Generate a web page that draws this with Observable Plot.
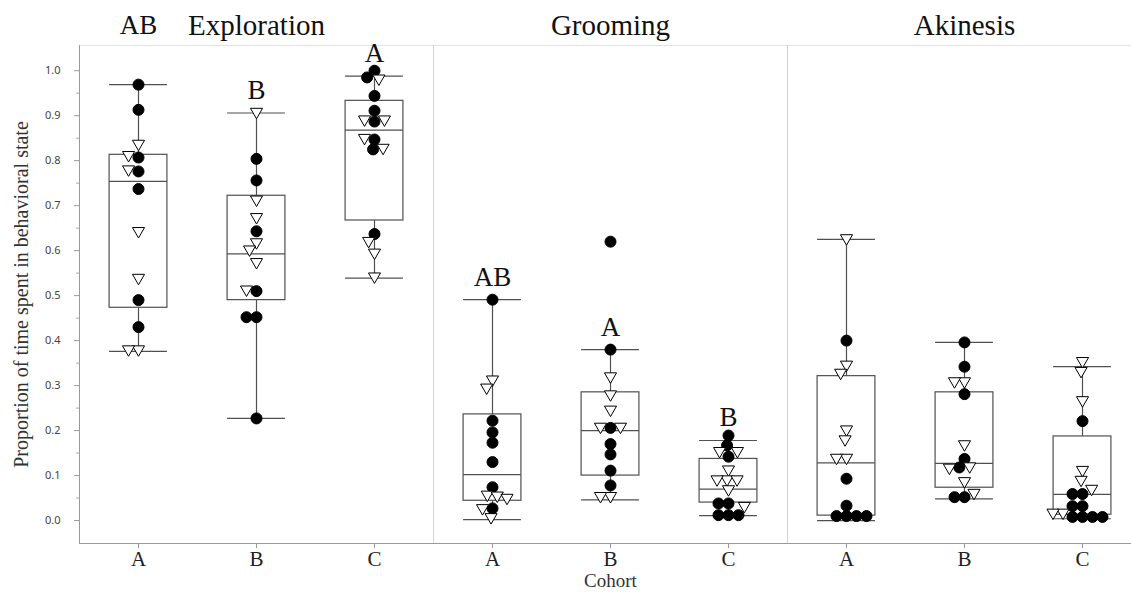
<!DOCTYPE html>
<html>
<head>
<meta charset="utf-8">
<script src="https://cdn.jsdelivr.net/npm/d3@7"></script>
<script src="https://cdn.jsdelivr.net/npm/@observablehq/plot@0.6"></script>
<style>
  body { margin: 0; background: #fff; }
  #chart { width: 1131px; height: 592px; }
</style>
</head>
<body>
<div id="chart"></div>
<script>
const behaviors = ["Exploration", "Grooming", "Akinesis"];
const cohorts = ["A", "B", "C"];

// Proportion of time per animal; one inner list per cohort (A, B, C)
const explorationFilled = [
  [0.969, 0.913, 0.807, 0.776, 0.737, 0.490, 0.430],
  [0.804, 0.756, 0.643, 0.510, 0.452, 0.452, 0.227],
  [1.000, 0.985, 0.944, 0.911, 0.887, 0.847, 0.825, 0.637]
];
const explorationOpen = [
  [0.835, 0.810, 0.778, 0.641, 0.537, 0.378, 0.378],
  [0.906, 0.711, 0.672, 0.616, 0.600, 0.572, 0.511],
  [0.980, 0.889, 0.889, 0.848, 0.826, 0.619, 0.593, 0.540]
];
const groomingFilled = [
  [0.491, 0.222, 0.196, 0.173, 0.130, 0.074, 0.027],
  [0.620, 0.380, 0.206, 0.170, 0.147, 0.111, 0.078],
  [0.189, 0.167, 0.142, 0.038, 0.038, 0.012, 0.012, 0.012]
];
const groomingOpen = [
  [0.311, 0.293, 0.055, 0.053, 0.048, 0.025, 0.005],
  [0.318, 0.278, 0.244, 0.206, 0.206, 0.052, 0.052],
  [0.152, 0.152, 0.111, 0.089, 0.089, 0.089, 0.067, 0.030]
];
const akinesisFilled = [
  [0.400, 0.093, 0.033, 0.010, 0.010, 0.010, 0.010],
  [0.396, 0.342, 0.281, 0.137, 0.118, 0.052, 0.052],
  [0.221, 0.059, 0.059, 0.032, 0.032, 0.008, 0.008, 0.008, 0.008]
];
const akinesisOpen = [
  [0.625, 0.344, 0.326, 0.200, 0.178, 0.137, 0.137],
  [0.307, 0.307, 0.167, 0.118, 0.115, 0.085, 0.059],
  [0.352, 0.330, 0.265, 0.110, 0.088, 0.068, 0.015, 0.015]
];

// Box summaries, behavior-major order (Exploration A..C, Grooming A..C, Akinesis A..C)
const boxLow    = [0.376, 0.227, 0.539, 0.002, 0.046, 0.011, 0.000, 0.048, 0.004];
const boxQ1     = [0.473, 0.490, 0.667, 0.044, 0.100, 0.040, 0.011, 0.073, 0.013];
const boxMedian = [0.754, 0.593, 0.868, 0.102, 0.200, 0.070, 0.128, 0.127, 0.058];
const boxQ3     = [0.813, 0.722, 0.933, 0.236, 0.285, 0.137, 0.321, 0.285, 0.187];
const boxHigh   = [0.969, 0.906, 0.988, 0.491, 0.380, 0.178, 0.625, 0.396, 0.342];

// Compact letter display of pairwise comparisons
const explorationLetters = ["AB", "B", "A"];
const groomingLetters = ["AB", "A", "B"];

const yMajorTicks = [0, 0.1, 0.2, 0.3, 0.4, 0.5, 0.6, 0.7, 0.8, 0.9, 1.0];
const yMinorTicks = [0.05, 0.15, 0.25, 0.35, 0.45, 0.55, 0.65, 0.75, 0.85, 0.95];

// ---- tables for the marks ----
const keys = behaviors.flatMap(b => cohorts.map(c => `${b} ${c}`));
const filledSets = [explorationFilled, groomingFilled, akinesisFilled];
const openSets = [explorationOpen, groomingOpen, akinesisOpen];

const points = [];
behaviors.forEach((b, bi) => cohorts.forEach((c, ci) => {
  const key = `${b} ${c}`;
  filledSets[bi][ci].forEach(value => points.push({key, value, kind: "filled"}));
  openSets[bi][ci].forEach(value => points.push({key, value, kind: "open"}));
}));

const boxes = keys.map((key, i) => ({
  key, low: boxLow[i], q1: boxQ1[i], median: boxMedian[i], q3: boxQ3[i], high: boxHigh[i]
}));

const letters = [
  ...explorationLetters.map((text, i) => ({key: `Exploration ${cohorts[i]}`, text, high: boxHigh[i]})),
  ...groomingLetters.map((text, i) => ({key: `Grooming ${cohorts[i]}`, text, high: boxHigh[3 + i]}))
];
// the first letter group sits in the title row
const titleRowLetters = letters.filter(d => d.key === "Exploration A");
const whiskerLetters = letters.filter(d => d.key !== "Exploration A");

// downward-pointing open triangle
const triangleDown = {
  draw(context, size) {
    const r = Math.sqrt(size / Math.PI);
    context.moveTo(-1.1 * r, -0.85 * r);
    context.lineTo(1.1 * r, -0.85 * r);
    context.lineTo(0, 1.05 * r);
    context.closePath();
  }
};

// each facet spans x ∈ [-1, 1]; boxes are half as wide as a facet
const halfBox = 0.49;
const serif = "'Liberation Serif', 'Times New Roman', serif";
const sans = "'Noto Sans', 'Open Sans', sans-serif";
const boxStroke = "#505050";

const chart = Plot.plot({
  width: 1131, height: 592,
  marginLeft: 79, marginRight: -10, marginTop: 45, marginBottom: 49,
  style: {background: "white", fontFamily: serif, overflow: "visible"},
  fx: {domain: keys, padding: 0, axis: null},
  x: {domain: [-1, 1], axis: null},
  y: {domain: [-0.051, 1.056], axis: null},
  symbol: {domain: ["filled", "open"], range: [d3.symbolCircle, triangleDown]},
  color: {domain: ["filled", "open"], range: ["black", "white"]},
  marks: [
    // frame pieces
    Plot.frame({anchor: "top", stroke: "#e2e2e2"}),
    Plot.frame({anchor: "bottom", stroke: "#9a9a9a"}),
    Plot.ruleX(["Grooming A", "Akinesis A"], {fx: d => d, x: () => -1, stroke: "#d4d4d4"}),
    Plot.ruleX([keys[0]], {fx: d => d, x: () => -1, stroke: "#9a9a9a"}),

    // y axis
    Plot.axisY({ticks: yMajorTicks, tickSize: 5, tickPadding: 14, tickFormat: d3.format(".1f"),
      fontFamily: sans, fontSize: 11, fill: "#444", stroke: "#999", label: null}),
    Plot.axisY({ticks: yMinorTicks, tickSize: 3, tickFormat: () => "", stroke: "#aaa", label: null}),
    Plot.text(["Proportion of time spent in behavioral state"], {
      fx: () => keys[0], frameAnchor: "left", textAnchor: "middle", lineAnchor: "middle",
      rotate: -90, dx: -58, fontSize: 20, fill: "#333", fontFamily: serif
    }),

    // cohort axis
    Plot.axisFx({anchor: "bottom", tickSize: 5, tickPadding: 3, tickFormat: k => k.split(" ")[1],
      fontSize: 21, fill: "#222", stroke: "#999", fontFamily: serif, label: null}),
    Plot.text(["Cohort"], {fx: () => "Grooming B", frameAnchor: "bottom", lineAnchor: "middle", dy: 37,
      fontSize: 19, fill: "#333", fontFamily: serif}),

    // panel titles
    Plot.text(behaviors, {fx: b => `${b} B`, text: d => d, frameAnchor: "top", lineAnchor: "middle", dy: -20,
      fontSize: 29, fill: "#111", fontFamily: serif}),

    // box plots
    Plot.ruleX(boxes, {fx: "key", x: () => 0, y1: "low", y2: "high", stroke: boxStroke, strokeWidth: 1.2}),
    Plot.ruleY(boxes, {fx: "key", x1: -halfBox, x2: halfBox, y: "high", stroke: boxStroke, strokeWidth: 1.2}),
    Plot.ruleY(boxes, {fx: "key", x1: -halfBox, x2: halfBox, y: "low", stroke: boxStroke, strokeWidth: 1.2}),
    Plot.rect(boxes, {fx: "key", x1: -halfBox, x2: halfBox, y1: "q1", y2: "q3", fill: "white", stroke: boxStroke, strokeWidth: 1.2}),
    Plot.ruleY(boxes, {fx: "key", x1: -halfBox, x2: halfBox, y: "median", stroke: boxStroke, strokeWidth: 1.2}),

    // individual animals
    Plot.dot(points, Plot.dodgeX({anchor: "middle", padding: -1}, {
      fx: "key", y: "value", r: 5.5, symbol: "kind", fill: "kind", stroke: "black", strokeWidth: 1
    })),

    // significance letters
    Plot.text(whiskerLetters, {fx: "key", y: "high", text: "text", lineAnchor: "bottom", dy: -14,
      fontSize: 27, fill: "#111", fontFamily: serif}),
    Plot.text(titleRowLetters, {fx: "key", text: "text", frameAnchor: "top", lineAnchor: "middle", dy: -20,
      fontSize: 27, fill: "#111", fontFamily: serif})
  ]
});

document.getElementById("chart").append(chart);
</script>
</body>
</html>
